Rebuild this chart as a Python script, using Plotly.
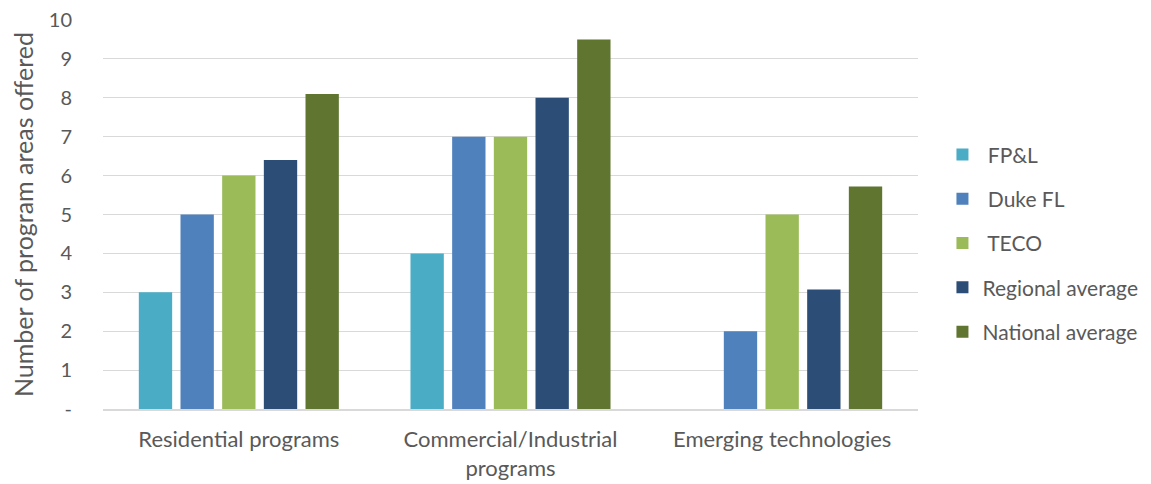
import plotly.graph_objects as go

categories = ["Residential programs", "Commercial/Industrial<br>programs", "Emerging technologies"]
series_names = [" FP&L", " Duke FL", " TECO", "Regional average", "National average"]
fpl = [3, 4, None]
duke = [5, 7, 2]
teco = [6, 7, 5]
regional = [6.4, 8, 3.07]
national = [8.1, 9.5, 5.72]
colors = ["#4BACC6", "#4F81BD", "#9BBB59", "#2C4D75", "#5F7530"]
y_tickvals = [0, 1, 2, 3, 4, 5, 6, 7, 8, 9, 10]
y_ticktext = ["-", "1", "2", "3", "4", "5", "6", "7", "8", "9", "10"]

fig = go.Figure()
for i, (name, vals) in enumerate(zip(series_names, [fpl, duke, teco, regional, national])):
    fig.add_trace(go.Bar(
        x=categories, y=vals, name=name, marker_color=colors[i],
        marker_line_width=0, legendgroup=str(i),
    ))

font = "Lato, sans-serif"
fig.update_layout(
    width=1143, height=476,
    margin=dict(l=95, r=233, t=12, b=75, autoexpand=False),
    plot_bgcolor="white", paper_bgcolor="white",
    barmode="group", bargap=0.233, bargroupgap=0.2,
    font=dict(family=font, size=22, color="#595959"),
    legend=dict(x=1.03, xanchor="left", y=0.426, yanchor="middle",
                font=dict(size=21, color="#595959"), tracegroupgap=14,
                itemwidth=30),
    xaxis=dict(showline=True, linecolor="#D9D9D9", linewidth=1.5, automargin=False,
               tickfont=dict(size=22), ticks="outside", ticklen=10,
               tickcolor="rgba(0,0,0,0)"),
    yaxis=dict(range=[0, 10], tickvals=y_tickvals, ticktext=y_ticktext, automargin=False,
               showgrid=True, gridcolor="#D9D9D9", gridwidth=1.3, zeroline=False,
               tickfont=dict(size=20), ticks="outside", ticklen=26,
               tickcolor="rgba(0,0,0,0)", ticklabeloverflow="allow",
               title=dict(text="Number of program areas offered", font=dict(size=25), standoff=10)),
)
fig.write_html("out.html")
